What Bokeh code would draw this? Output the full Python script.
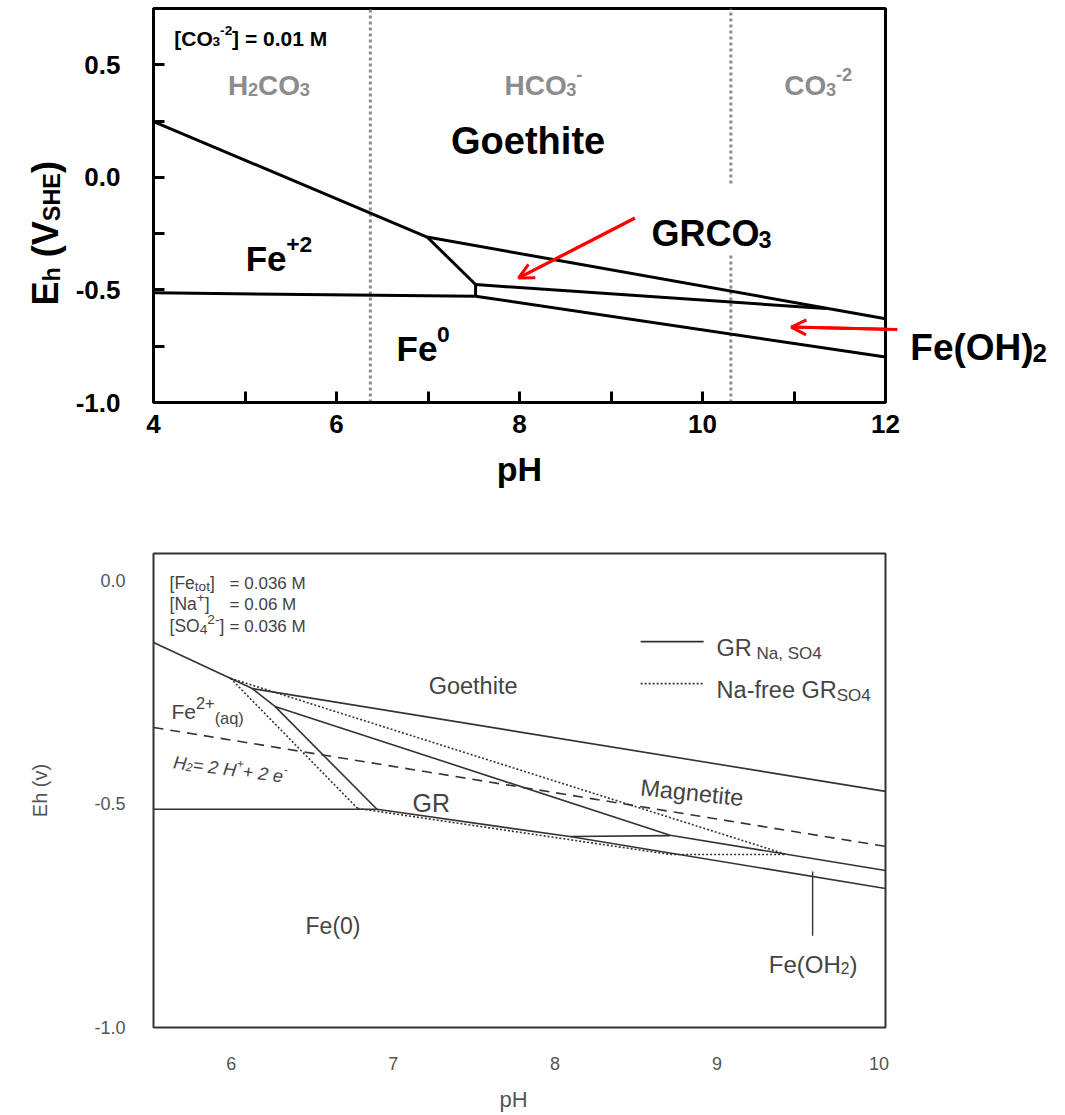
import math
from bokeh.plotting import figure
from bokeh.models import Arrow, OpenHead, FixedTicker, CustomJSTickFormatter, Range1d
from bokeh.core.properties import value
from bokeh.layouts import column
from bokeh.embed import file_html
from bokeh.resources import INLINE

FONT = "Liberation Sans"

# ---------------- data: upper diagram (carbonate green rust) ----------------
top_ph_ticks = [4, 5, 6, 7, 8, 9, 10, 11, 12]
top_eh_ticks = [-1.0, -0.75, -0.5, -0.25, 0.0, 0.25, 0.5]
# stability-field boundaries (pH, Eh)
top_boundary_ph = [[4.0, 6.99], [6.99, 7.52], [6.99, 12.0], [7.52, 11.35],
                   [7.52, 7.52], [4.0, 7.52], [7.52, 12.0]]
top_boundary_eh = [[0.248, -0.265], [-0.265, -0.476], [-0.265, -0.628], [-0.476, -0.583],
                   [-0.476, -0.528], [-0.513, -0.528], [-0.528, -0.798]]
# carbonate speciation boundaries (pKa lines, dotted)
carb_line_ph = [[6.37, 6.37], [10.31, 10.31], [10.31, 10.31]]
carb_line_eh = [[-1.0, 0.75], [-0.027, 0.75], [-1.0, -0.336]]
# red pointer arrows
arrow_start_ph = [9.26, 12.13]
arrow_start_eh = [-0.181, -0.676]
arrow_end_ph = [7.99, 10.97]
arrow_end_eh = [-0.447, -0.665]

# ---------------- data: lower diagram (sulfate green rust) ----------------
bot_ph_ticks = [6, 7, 8, 9, 10]
bot_eh_ticks = [-1.0, -0.5, 0.0]
gr_na_ph = [[5.52, 6.13], [6.13, 10.04], [6.13, 6.27], [6.27, 8.71], [6.27, 6.90],
            [5.52, 6.90], [6.90, 8.09], [8.09, 8.71], [8.71, 10.04], [8.09, 10.04]]
gr_na_eh = [[-0.139, -0.242], [-0.242, -0.472], [-0.242, -0.282], [-0.282, -0.570], [-0.282, -0.512],
            [-0.512, -0.512], [-0.512, -0.573], [-0.573, -0.571], [-0.570, -0.649], [-0.573, -0.689]]
na_free_ph = [[5.995, 9.42], [5.995, 6.78], [6.78, 8.71], [8.71, 9.42]]
na_free_eh = [[-0.219, -0.612], [-0.219, -0.510], [-0.510, -0.613], [-0.613, -0.613]]
h2_ph = [5.52, 10.04]
h2_eh = [-0.329, -0.595]
feoh2_leader_ph = [9.59, 9.59]
feoh2_leader_eh = [-0.651, -0.795]

# ---------------- text helpers (Arial / Liberation Sans metrics) ----------------
AR = {' ': 278, '(': 333, ')': 333, '+': 584, ',': 278, '-': 333, '.': 278, '=': 584, '[': 278, ']': 278,
      'A': 667, 'B': 667, 'C': 722, 'D': 722, 'E': 667, 'F': 611, 'G': 778, 'H': 722, 'I': 278, 'M': 833,
      'N': 722, 'O': 778, 'R': 722, 'S': 667, 'T': 611, 'V': 667,
      'a': 556, 'b': 556, 'c': 500, 'd': 556, 'e': 556, 'f': 278, 'g': 556, 'h': 556, 'i': 222, 'l': 222,
      'm': 833, 'n': 556, 'o': 556, 'p': 556, 'q': 556, 'r': 333, 's': 500, 't': 278, 'u': 556, 'v': 500}
for _d in "0123456789":
    AR[_d] = 556
ARB = dict(AR)
ARB.update({'[': 333, ']': 333, 'A': 722, 'B': 722, 'b': 611, 'c': 556, 'd': 611, 'g': 611, 'h': 611,
            'i': 278, 'l': 278, 'n': 611, 'o': 611, 'p': 611, 'q': 611, 'r': 389, 's': 556, 't': 333,
            'u': 611, 'f': 333, 'v': 556})


def tw(s, size, bold=False):
    t = ARB if bold else AR
    return sum(t.get(c, 556) for c in s) * size / 1000.0


def rich(p, scale, x, y, parts, size, color, bold=False, italic=False, angle=0.0,
         sub_scale=0.65, sub_dy=0.15, sup_dy=0.40, align="left"):
    """Draw text with sub/superscripts as several text glyphs (overlay level, not clipped)."""
    kx, ky = scale  # pixels per data unit in x and y
    style = ("bold " if bold else "") + ("italic" if italic else "")
    style = style.strip() or "normal"
    ca, sa = math.cos(angle), math.sin(angle)
    pieces = []
    adv = 0.0
    for item in parts:
        text, kind = item[0], item[1]
        s = size if kind == "n" else size * sub_scale
        if len(item) > 2:
            s = item[2]
        shift = 0.0 if kind == "n" else (-sub_dy * size if kind == "sub" else sup_dy * size)
        lead = len(text) - len(text.lstrip(" "))
        adv += tw(" " * lead, s, bold)
        core = text.strip(" ")
        pieces.append((core, s, adv, shift))
        adv += tw(core, s, bold)
        adv += tw(" " * (len(text) - len(text.rstrip(" "))), s, bold)
    start = -adv / 2.0 if align == "center" else 0.0
    for core, s, a, shift in pieces:
        a = a + start
        dx = a * ca - shift * sa
        dy = a * sa + shift * ca
        p.text(x=[x + dx / kx], y=[y + dy / ky], text=[core], angle=angle,
               text_font=value(FONT), text_font_size=value(f"{s:.1f}px"), text_font_style=style,
               text_color=color, text_align="left", text_baseline="alphabetic", level="overlay")


# ================= upper figure =================
W = 1060
H1 = 520
p1 = figure(width=W, height=H1, x_range=Range1d(4, 12), y_range=Range1d(-1.0, 0.75),
            output_backend="svg", toolbar_location=None, title=None,
            min_border_left=152, min_border_right=W - 890, min_border_top=8, min_border_bottom=H1 - 402)
S1 = (738 / 8.0, 394 / 1.75)
p1.background_fill_color = "white"
p1.border_fill_color = "white"
p1.outline_line_color = "black"
p1.outline_line_width = 3
p1.grid.visible = False

for ax in (p1.xaxis[0], p1.yaxis[0]):
    ax.axis_line_width = 3
    ax.axis_line_color = "black"
    ax.major_tick_line_width = 3
    ax.major_tick_line_color = "black"
    ax.major_tick_in = 11
    ax.major_tick_out = 0
    ax.minor_tick_line_color = None
    ax.major_label_text_font = FONT
    ax.major_label_text_font_style = "bold"
    ax.major_label_text_font_size = "26px"
    ax.major_label_text_color = "black"

p1.xaxis.ticker = FixedTicker(ticks=top_ph_ticks)
p1.xaxis.formatter = CustomJSTickFormatter(
    code="var t = Math.round(tick); return (t % 2 === 0) ? String(t) : '';")
p1.xaxis.major_label_standoff = 12
p1.xaxis.axis_label = "pH"
p1.xaxis.axis_label_text_font = FONT
p1.xaxis.axis_label_text_font_style = "bold"
p1.xaxis.axis_label_text_font_size = "34px"
p1.xaxis.axis_label_text_color = "black"
p1.xaxis.axis_label_standoff = 14

p1.yaxis.ticker = FixedTicker(ticks=top_eh_ticks)
p1.yaxis.formatter = CustomJSTickFormatter(
    code="return (Math.abs(tick*2 - Math.round(tick*2)) < 1e-6) ? tick.toFixed(1) : '';")
p1.yaxis.major_label_standoff = 33

p1.multi_line(xs=carb_line_ph, ys=carb_line_eh, line_color="#8c8c8c", line_width=3, line_dash="3 3")
p1.multi_line(xs=top_boundary_ph, ys=top_boundary_eh, line_color="black", line_width=3,
              line_join="round")

p1.segment(x0=arrow_start_ph, y0=arrow_start_eh, x1=arrow_end_ph, y1=arrow_end_eh,
           line_color="red", line_width=3, level="overlay")
for i in range(len(arrow_start_ph)):
    p1.add_layout(Arrow(end=OpenHead(size=15, line_color="red", line_width=3),
                        x_start=arrow_start_ph[i], y_start=arrow_start_eh[i],
                        x_end=arrow_end_ph[i], y_end=arrow_end_eh[i],
                        line_color="red", line_width=3))

# y-axis title E_h (V_SHE), rotated
rich(p1, S1, 2.818, -0.569, [("E", "n"), ("h", "sub"), (" (V", "n"), ("SHE", "sub"), (")", "n")],
     36, "black", bold=True, angle=math.pi / 2, sub_dy=0.2)

rich(p1, S1, 4.228, 0.616, [("[CO", "n"), ("3", "sub"), ("-2", "sup"), ("] = 0.01 M", "n")], 21, "black", bold=True)
GRAY = "#8c8c8c"
rich(p1, S1, 4.813, 0.407, [("H", "n"), ("2", "sub"), ("CO", "n"), ("3", "sub")], 28, GRAY, bold=True)
rich(p1, S1, 7.837, 0.407, [("HCO", "n"), ("3", "sub"), ("-", "sup")], 28, GRAY, bold=True)
rich(p1, S1, 10.894, 0.407, [("CO", "n"), ("3", "sub"), ("-2", "sup")], 28, GRAY, bold=True)
rich(p1, S1, 7.252, 0.163, [("Goethite", "n")], 38, "black", bold=True)
rich(p1, S1, 5.008, -0.361, [("Fe", "n"), ("+2", "sup")], 35, "black", bold=True)
rich(p1, S1, 6.656, -0.760, [("Fe", "n"), ("0", "sup")], 35, "black", bold=True)
rich(p1, S1, 9.442, -0.250, [("GRCO", "n"), ("3", "sub")], 36, "black", bold=True)
rich(p1, S1, 12.271, -0.756, [("Fe(OH)", "n"), ("2", "sub")], 37, "black", bold=True, sub_scale=0.7)

# ================= lower figure =================
LC = "#333333"
TC = "#444444"
H2 = 593
top2 = H1
p2 = figure(width=W, height=H2, x_range=Range1d(5.52, 10.04), y_range=Range1d(-1.0, 0.06),
            output_backend="svg", toolbar_location=None, title=None,
            min_border_left=153, min_border_right=W - 885,
            min_border_top=553 - top2, min_border_bottom=top2 + H2 - 1027)
S2 = (732 / 4.52, 474 / 1.06)
p2.background_fill_color = "white"
p2.border_fill_color = "white"
p2.outline_line_color = LC
p2.outline_line_width = 2
p2.grid.visible = False
for ax in (p2.xaxis[0], p2.yaxis[0]):
    ax.axis_line_color = None
    ax.major_tick_line_color = None
    ax.minor_tick_line_color = None
    ax.major_tick_in = 0
    ax.major_tick_out = 0
    ax.major_label_text_font = FONT
    ax.major_label_text_font_size = "18px"
    ax.major_label_text_color = "#555555"
    ax.axis_label_text_font = FONT
    ax.axis_label_text_font_style = "normal"
    ax.axis_label_text_color = "#555555"
p2.xaxis.ticker = FixedTicker(ticks=bot_ph_ticks)
p2.yaxis.ticker = FixedTicker(ticks=bot_eh_ticks)
p2.yaxis.formatter = CustomJSTickFormatter(code="return tick.toFixed(1);")
p2.xaxis.major_label_standoff = 29
p2.yaxis.major_label_standoff = 28
p2.yaxis.axis_label = "Eh (v)"
p2.yaxis.axis_label_text_font_size = "20px"
p2.yaxis.axis_label_standoff = 40

p2.line(h2_ph, h2_eh, line_color=LC, line_width=1.6, line_dash="10 7")
p2.multi_line(xs=na_free_ph, ys=na_free_eh, line_color=LC, line_width=1.6, line_dash="2 2")
p2.multi_line(xs=gr_na_ph, ys=gr_na_eh, line_color=LC, line_width=1.6)
p2.line(feoh2_leader_ph, feoh2_leader_eh, line_color=LC, line_width=1.4)

# x-axis title drawn as text (keeps the frame height unchanged)
rich(p2, S2, 7.743, -1.160, [("pH", "n")], 22, "#555555", align="center")

# legend (drawn manually so labels can carry subscripts)
p2.line([8.528, 8.917], [-0.137, -0.137], line_color=LC, line_width=1.6)
p2.line([8.528, 8.917], [-0.231, -0.231], line_color=LC, line_width=1.6, line_dash="2 2")
rich(p2, S2, 8.997, -0.152, [("GR", "n"), (" Na, SO4", "sub", 17)], 23.5, TC, sub_dy=0.22)
rich(p2, S2, 8.997, -0.246, [("Na-free GR", "n"), ("SO4", "sub", 17)], 23.5, TC, sub_dy=0.22)

# conditions
rich(p2, S2, 5.619, -0.007, [("[Fe", "n"), ("tot", "sub"), ("]", "n")], 17.5, TC, sub_scale=0.78)
rich(p2, S2, 5.619, -0.054, [("[Na", "n"), ("+", "sup"), ("]", "n")], 17.5, TC, sub_scale=0.78)
rich(p2, S2, 5.619, -0.103, [("[SO", "n"), ("4", "sub"), ("2-", "sup"), ("]", "n")], 17.5, TC, sub_scale=0.78)
rich(p2, S2, 5.99, -0.007, [("= 0.036 M", "n")], 17, TC)
rich(p2, S2, 5.99, -0.054, [("= 0.06 M", "n")], 17, TC)
rich(p2, S2, 5.99, -0.103, [("= 0.036 M", "n")], 17, TC)

rich(p2, S2, 5.631, -0.293, [("Fe", "n"), ("2+", "sup"), ("(aq)", "sub")], 21, TC, sub_scale=0.78, sub_dy=0.3)
rich(p2, S2, 5.644, -0.407, [("H", "n"), ("2", "sub"), ("= 2 H", "n"), ("+", "sup"), ("+ 2 e", "n"), ("-", "sup")],
     18, TC, italic=True, angle=-0.13)
rich(p2, S2, 7.219, -0.237, [("Goethite", "n")], 23.5, TC)
rich(p2, S2, 7.12, -0.497, [("GR", "n")], 25, TC)
rich(p2, S2, 8.528, -0.463, [("Magnetite", "n")], 23.5, TC, angle=-0.105)
rich(p2, S2, 6.459, -0.774, [("Fe(0)", "n")], 23, TC)
rich(p2, S2, 9.319, -0.859, [("Fe(OH", "n"), ("2", "sub"), (")", "n")], 24, TC)

layout = column(p1, p2)
open("out.html", "w").write(file_html(layout, INLINE))
